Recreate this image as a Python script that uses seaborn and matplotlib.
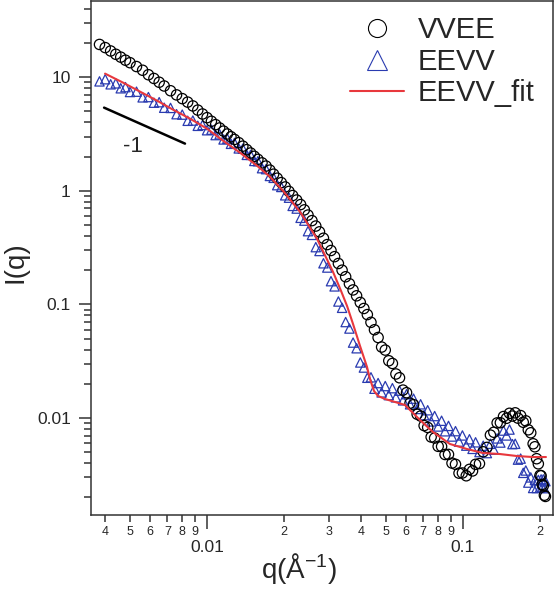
import seaborn as sns
import matplotlib.pyplot as plt
from matplotlib.lines import Line2D
from matplotlib.ticker import LogLocator, NullFormatter

# q grid (1/A) shared by both measured curves
q = [0.0038, 0.004, 0.0042, 0.0044, 0.0046, 0.0048, 0.005, 0.0053, 0.0056, 0.0059, 0.0062, 0.0065, 0.0068, 0.0072,
     0.0076, 0.008, 0.0084, 0.0088, 0.0092, 0.0096, 0.01, 0.0104, 0.0108, 0.0112, 0.0116, 0.012, 0.0124, 0.0128,
     0.0133, 0.0138, 0.0143, 0.0148, 0.0153, 0.0158, 0.0164, 0.017, 0.0176, 0.0182, 0.0188, 0.0195, 0.0202, 0.0209,
     0.0216, 0.0224, 0.0232, 0.024, 0.0248, 0.0257, 0.0266, 0.0275, 0.0285, 0.0295, 0.0305, 0.0315, 0.0326, 0.0337,
     0.0348, 0.036, 0.0372, 0.0384, 0.0397, 0.041, 0.0423, 0.0437, 0.0451, 0.0466, 0.0481, 0.0497, 0.0513, 0.053,
     0.0547, 0.0565, 0.0583, 0.0602, 0.0621, 0.0641, 0.0662, 0.0683, 0.0705, 0.0728, 0.0751, 0.0775, 0.08, 0.0825,
     0.0851, 0.0878, 0.0906, 0.0935, 0.0965, 0.0995, 0.103, 0.106, 0.109, 0.112, 0.116, 0.12, 0.124, 0.128, 0.132,
     0.136, 0.14, 0.144, 0.148, 0.152, 0.156, 0.16, 0.164, 0.168, 0.172, 0.176, 0.18, 0.184, 0.188, 0.191, 0.194,
     0.197, 0.2, 0.202, 0.204, 0.206, 0.208, 0.21]

vvee_I = [19.4, 18.2, 17, 15.9, 15, 14.1, 13.4, 12.4, 11.5, 10.5, 9.74, 9.02, 8.36, 7.59, 6.98, 6.47, 6.03, 5.58,
          5.13, 4.74, 4.4, 4.09, 3.82, 3.57, 3.35, 3.16, 2.99, 2.83, 2.65, 2.47, 2.3, 2.15, 2.01, 1.89, 1.76, 1.65,
          1.52, 1.4, 1.29, 1.18, 1.08, 0.987, 0.908, 0.829, 0.756, 0.679, 0.611, 0.546, 0.489, 0.435, 0.382, 0.336,
          0.298, 0.263, 0.229, 0.2, 0.175, 0.152, 0.134, 0.119, 0.104, 0.092, 0.0813, 0.0695, 0.0598, 0.0511,
          0.0421, 0.0396, 0.0319, 0.0302, 0.0244, 0.0226, 0.0176, 0.0167, 0.0135, 0.0131, 0.0108, 0.0104, 0.00857,
          0.00826, 0.0068, 0.00666, 0.00563, 0.00561, 0.00477, 0.00478, 0.00401, 0.00391, 0.00327, 0.00328, 0.0031,
          0.00353, 0.00342, 0.00391, 0.00397, 0.00504, 0.00551, 0.00707, 0.00749, 0.00905, 0.00909, 0.0103,
          0.00994, 0.011, 0.0104, 0.0111, 0.00997, 0.0105, 0.00917, 0.00944, 0.00787, 0.00741, 0.00593, 0.00558,
          0.00438, 0.00395, 0.00313, 0.0031, 0.0026, 0.00253, 0.00209, 0.00204]

eevv_I = [9.18, 9.59, 8.65, 8.82, 7.98, 8.17, 7.4, 7.45, 6.64, 6.68, 5.96, 6.02, 5.38, 5.36, 4.72, 4.68, 4.13, 4.15,
          3.73, 3.79, 3.41, 3.45, 3.09, 3.14, 2.83, 2.87, 2.59, 2.64, 2.36, 2.35, 2.07, 2.07, 1.83, 1.82, 1.58, 1.55,
          1.35, 1.3, 1.12, 1.08, 0.912, 0.869, 0.736, 0.697, 0.578, 0.546, 0.441, 0.409, 0.319, 0.295, 0.23, 0.211,
          0.16, 0.144, 0.106, 0.0933, 0.0699, 0.0613, 0.0461, 0.0411, 0.0308, 0.0278, 0.0226, 0.0228, 0.0181,
          0.0203, 0.0168, 0.0191, 0.0159, 0.0183, 0.0152, 0.0174, 0.0143, 0.0162, 0.0132, 0.0148, 0.012, 0.0132,
          0.0106, 0.0117, 0.00933, 0.0104, 0.00842, 0.00946, 0.00764, 0.00852, 0.00687, 0.00766, 0.0062, 0.00702,
          0.00571, 0.0065, 0.00535, 0.00611, 0.00501, 0.0057, 0.00491, 0.00593, 0.00526, 0.00661, 0.00608, 0.00775,
          0.00702, 0.00791, 0.00589, 0.00593, 0.0043, 0.00439, 0.00329, 0.00345, 0.0027, 0.003, 0.00242, 0.00284,
          0.00242, 0.00285, 0.00244, 0.00288, 0.00246, 0.00288, 0.00241, 0.00278]

fit_q = [0.003995, 0.004698, 0.005474, 0.006378, 0.007365, 0.008582, 0.01, 0.01155, 0.01346, 0.01568, 0.01762,
         0.01981, 0.02308, 0.0269, 0.03106, 0.03338, 0.03523, 0.03718, 0.0396, 0.04217, 0.04332, 0.04491, 0.04656,
         0.04958, 0.05425, 0.05935, 0.06793, 0.07635, 0.08896, 0.1037, 0.1197, 0.1395, 0.1625, 0.1877, 0.211]
fit_I = [10.74, 8.944, 7.452, 6.208, 5.172, 4.309, 3.518, 2.758, 2.162, 1.661, 1.328, 1, 0.6531, 0.3777, 0.1933,
         0.1315, 0.097, 0.06733, 0.04309, 0.02814, 0.02206, 0.01729, 0.01563, 0.0147, 0.01383, 0.01302, 0.009602,
         0.007528, 0.005901, 0.005332, 0.004916, 0.004817, 0.004626, 0.004533, 0.004533]

# slope -1 guide
slope_q = [0.00396, 0.0082]
slope_I = [5.39, 2.6]

labels = ['VVEE', 'EEVV', 'EEVV_fit']
x_major = [0.01, 0.1]
x_major_labels = ['0.01', '0.1']
x_minor = [0.004, 0.005, 0.006, 0.007, 0.008, 0.009, 0.02, 0.03, 0.04, 0.05, 0.06, 0.07, 0.08, 0.09, 0.2]
x_minor_labels = ['4', '5', '6', '7', '8', '9', '2', '3', '4', '5', '6', '7', '8', '9', '2']
y_major = [0.01, 0.1, 1, 10]
y_major_labels = ['0.01', '0.1', '1', '10']

sns.set_style('ticks')
plt.rcParams['font.family'] = ['Liberation Sans', 'DejaVu Sans']
plt.rcParams['mathtext.fontset'] = 'custom'
plt.rcParams['mathtext.rm'] = 'Liberation Sans'
plt.rcParams['mathtext.default'] = 'regular'

fig = plt.figure(figsize=(5.55, 5.90), dpi=100)
ax = fig.add_axes([91/555, 75/590, 462/555, 514/590])
ax.set_xscale('log')
ax.set_yscale('log')

sns.scatterplot(x=q, y=eevv_I, ax=ax, marker='^', s=45, facecolors='none', edgecolor='#2a3bb0', linewidth=0.9, zorder=2)
sns.scatterplot(x=q, y=vvee_I, ax=ax, marker='o', s=55, facecolors='none', edgecolor='black', linewidth=0.9, zorder=3)
sns.lineplot(x=fit_q, y=fit_I, ax=ax, color='#e8383d', lw=1.5, zorder=4)
sns.lineplot(x=slope_q, y=slope_I, ax=ax, color='black', lw=1.8)
ax.text(0.00514, 2.45, '-1', fontsize=16, ha='center', va='center')

ax.set_xlim(0.00352, 0.2248)
ax.set_ylim(0.0014, 46.8)

ax.set_xticks(x_major)
ax.set_xticklabels(x_major_labels)
ax.set_xticks(x_minor, minor=True)
ax.set_xticklabels(x_minor_labels, minor=True)
ax.set_yticks(y_major)
ax.set_yticklabels(y_major_labels)
ax.yaxis.set_minor_locator(LogLocator(base=10, subs=range(2, 10), numticks=20))
ax.yaxis.set_minor_formatter(NullFormatter())
ax.tick_params(axis='x', which='major', length=10, pad=8, labelsize=12.5, width=1.1, color='#333333')
ax.tick_params(axis='x', which='minor', length=5, pad=3, labelsize=9, width=1.1, color='#333333')
ax.tick_params(axis='y', which='major', length=9, pad=5.5, labelsize=12.5, width=1.1, color='#333333')
ax.tick_params(axis='y', which='minor', length=5, width=1.1, color='#333333')
for sp in ax.spines.values():
    sp.set_color('#333333')
    sp.set_linewidth(1.1)

ax.set_xlabel('q(Å$^{-1}$)', fontsize=20)
ax.xaxis.set_label_coords(0.45, -0.07)
ax.set_ylabel('I(q)', fontsize=20)
ax.yaxis.set_label_coords(-0.136, 0.492)

handles = [Line2D([], [], marker='o', ls='none', mfc='none', mec='black', ms=13, mew=0.8),
           Line2D([], [], marker='^', ls='none', mfc='none', mec='#2a3bb0', ms=15, mew=0.8),
           Line2D([], [], color='#e8383d', lw=1.5)]
ax.legend(handles, labels, loc='upper right', bbox_to_anchor=(0.985, 0.993), frameon=False, fontsize=21,
          handlelength=1.85, handletextpad=0.45, labelspacing=0.12, borderaxespad=0)

fig.savefig('out.png', dpi=100)
